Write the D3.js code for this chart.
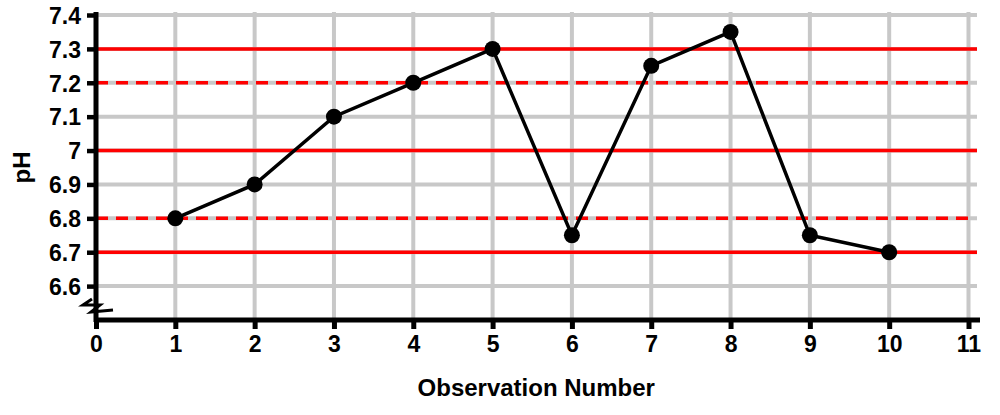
<!DOCTYPE html>
<html>
<head>
<meta charset="utf-8">
<script src="https://cdn.jsdelivr.net/npm/d3@7"></script>
<style>
  body { margin: 0; background: #fff; }
  text { font-family: "Liberation Sans", Arial, sans-serif; font-weight: bold; fill: #000; }
</style>
</head>
<body>
<svg id="chart" width="1000" height="415"></svg>
<script>
// data
const observations = [1, 2, 3, 4, 5, 6, 7, 8, 9, 10];
const phValues = [6.8, 6.9, 7.1, 7.2, 7.3, 6.75, 7.25, 7.35, 6.75, 6.7];
const xTicks = [0, 1, 2, 3, 4, 5, 6, 7, 8, 9, 10, 11];
const yTicks = [6.6, 6.7, 6.8, 6.9, 7.0, 7.1, 7.2, 7.3, 7.4];
const solidLimits = [7.3, 7.0, 6.7];
const dashedLimits = [7.2, 6.8];

const svg = d3.select("#chart");

const x = d3.scaleLinear().domain([0, 11]).range([96, 968.5]);
const y = d3.scaleLinear().domain([6.5, 7.4]).range([320, 15]);

const gridRight = 977;
const gridTop = 12;

// grid
svg.append("g").selectAll("line")
  .data(xTicks.slice(1))
  .enter().append("line")
  .attr("x1", d => x(d)).attr("x2", d => x(d))
  .attr("y1", gridTop).attr("y2", y(6.5))
  .attr("stroke", "#c8c8c8").attr("stroke-width", 4);

svg.append("g").selectAll("line")
  .data(yTicks)
  .enter().append("line")
  .attr("x1", x(0)).attr("x2", gridRight)
  .attr("y1", d => y(d)).attr("y2", d => y(d))
  .attr("stroke", "#c8c8c8").attr("stroke-width", 4);

// limit lines
svg.append("g").selectAll("line")
  .data(solidLimits)
  .enter().append("line")
  .attr("x1", x(0)).attr("x2", gridRight)
  .attr("y1", d => y(d)).attr("y2", d => y(d))
  .attr("stroke", "#ff0000").attr("stroke-width", 3.5);

svg.append("g").selectAll("line")
  .data(dashedLimits)
  .enter().append("line")
  .attr("x1", x(0)).attr("x2", gridRight - 4)
  .attr("y1", d => y(d)).attr("y2", d => y(d))
  .attr("stroke", "#ff0000").attr("stroke-width", 3.5)
  .attr("stroke-dasharray", "12,8");

// axes
const yAxis = d3.axisLeft(y)
  .tickValues(yTicks)
  .tickFormat(d3.format("~g"))
  .tickSize(9)
  .tickPadding(6);

const gy = svg.append("g").attr("transform", `translate(${x(0)},0)`).call(yAxis);
gy.select(".domain").remove();
gy.selectAll(".tick line").attr("stroke", "#000").attr("stroke-width", 4.5);
gy.selectAll(".tick text").style("font-size", "23px").attr("dy", "0.36em");

const xAxis = d3.axisBottom(x)
  .tickValues(xTicks)
  .tickSize(9)
  .tickPadding(6);

const gx = svg.append("g").attr("transform", `translate(0,${y(6.5)})`).call(xAxis);
gx.select(".domain").remove();
gx.selectAll(".tick line").attr("stroke", "#000").attr("stroke-width", 5);
gx.selectAll(".tick text").style("font-size", "23px").attr("dy", "0.72em");

// axis lines
svg.append("line")
  .attr("x1", x(0)).attr("x2", x(0))
  .attr("y1", gridTop).attr("y2", y(6.5) + 2)
  .attr("stroke", "#000").attr("stroke-width", 5);
svg.append("line")
  .attr("x1", x(0) - 2).attr("x2", 980)
  .attr("y1", y(6.5)).attr("y2", y(6.5))
  .attr("stroke", "#000").attr("stroke-width", 5);

// axis break symbol
svg.append("path")
  .attr("d", "M92,299 L83,305 L100,305 L91,312 L113,310")
  .attr("fill", "none").attr("stroke", "#000").attr("stroke-width", 3)
  .attr("stroke-linejoin", "miter");

// series
const pts = observations.map((o, i) => ({ o, v: phValues[i] }));

svg.append("path")
  .datum(pts)
  .attr("d", d3.line().x(d => x(d.o)).y(d => y(d.v)))
  .attr("fill", "none")
  .attr("stroke", "#000")
  .attr("stroke-width", 3.5);

svg.append("g").selectAll("circle")
  .data(pts)
  .enter().append("circle")
  .attr("cx", d => x(d.o))
  .attr("cy", d => y(d.v))
  .attr("r", 8)
  .attr("fill", "#000");

// titles
svg.append("text")
  .attr("x", (x(0) + x(11)) / 2 + 4)
  .attr("y", 396)
  .attr("text-anchor", "middle")
  .style("font-size", "24px")
  .text("Observation Number");

svg.append("text")
  .attr("transform", `translate(30,${(y(6.5) + y(7.4)) / 2}) rotate(-90)`)
  .attr("text-anchor", "middle")
  .style("font-size", "24px")
  .text("pH");
</script>
</body>
</html>
